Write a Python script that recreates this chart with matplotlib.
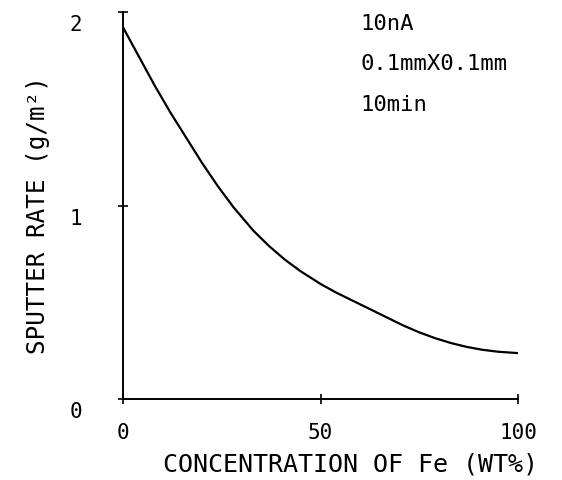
import matplotlib.pyplot as plt
import matplotlib.transforms as mtransforms

# Sputter rate vs Fe concentration
conc = [0, 4, 8, 12, 16, 20, 24, 28, 33, 37, 41, 45, 50, 54, 58, 62, 67, 71,
        75, 79, 83, 87, 91, 95, 100]
rate = [1.92, 1.77, 1.62, 1.48, 1.35, 1.22, 1.10, 0.99, 0.87, 0.79, 0.72,
        0.66, 0.595, 0.55, 0.51, 0.47, 0.42, 0.38, 0.345, 0.315, 0.29,
        0.27, 0.255, 0.245, 0.238]

xticks = [0, 50, 100]
yticks = [0, 1, 2]
notes = ['10nA', '0.1mmX0.1mm', '10min']

plt.rcParams['font.family'] = ['DejaVu Sans Mono']

fig = plt.figure(figsize=(5.62, 4.81), dpi=100)
ax = fig.add_axes([0.219, 0.168, 0.703, 0.805])

ax.plot(conc, rate, color='black', linewidth=1.6)

ax.set_xlim(0, 100)
ax.set_ylim(0, 2)
ax.spines['top'].set_visible(False)
ax.spines['right'].set_visible(False)
for s in ('left', 'bottom'):
    ax.spines[s].set_linewidth(1.4)

ax.set_xticks(xticks)
ax.set_yticks(yticks)
ax.tick_params(direction='inout', length=7, width=1.2, labelsize=15)
ax.tick_params(axis='x', pad=13)
ax.tick_params(axis='y', pad=26)

# y tick labels sit a bit below their ticks in the original
offset = mtransforms.ScaledTranslation(0, -10 / 100, fig.dpi_scale_trans)
for lbl in ax.get_yticklabels():
    lbl.set_transform(lbl.get_transform() + offset)

ax.set_xlabel('CONCENTRATION OF Fe (WT%)', fontsize=18, labelpad=7)
ax.xaxis.label.set_x(0.575)
ax.set_ylabel('SPUTTER RATE (g/m²)', fontsize=17.5, labelpad=14)
ax.yaxis.label.set_y(0.478)

for i, t in enumerate(notes):
    ax.text(0.60, 0.998 - i * 0.105, t, transform=ax.transAxes,
            fontsize=16, va='top', ha='left')

fig.savefig('out.png', dpi=100)
